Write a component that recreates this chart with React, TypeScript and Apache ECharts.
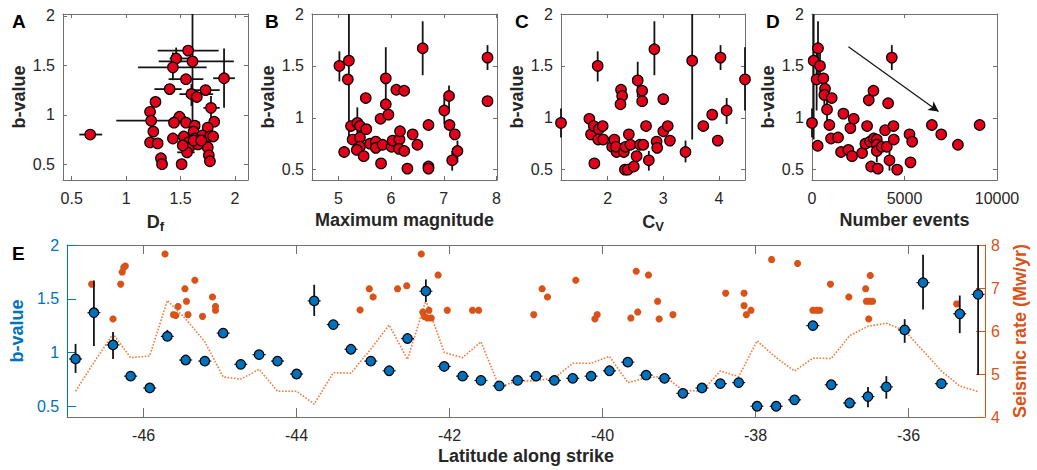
import React, { useEffect, useRef } from "react";
import * as echarts from "echarts";

const FONT = "'Liberation Sans', Arial, Helvetica, sans-serif";
const AX = "#707070";
const TXT = "#262626";
const RED = "#E3001B";
const BLUE = "#0072BD";
const ORANGE = "#D95319";
const RATE = "#F47A3C";

// Panel A: [Df, b, bLow, bHigh, DfLow, DfHigh]
const panelA = [
  [0.67, 0.8, 0.8, 0.8, 0.57, 0.78],
  [1.57, 1.65, 1.62, 1.68, 1.29, 1.85],
  [1.46, 1.57, 1.46, 1.68, 1.4, 1.6],
  [1.43, 1.48, 1.35, 1.63, 1.11, 1.74],
  [1.61, 1.54, 0.79, 2.3, 1.3, 1.99],
  [1.55, 1.36, 1.33, 1.39, 1.39, 1.71],
  [1.9, 1.37, 1.07, 1.67, 1.8, 2.0],
  [1.4, 1.26, 1.23, 1.29, 1.26, 1.51],
  [1.73, 1.25, 1.22, 1.28, 1.56, 1.86],
  [1.6, 1.21, 1.09, 1.31, 1.49, 1.8],
  [1.65, 1.18, 1.15, 1.21, 1.62, 1.68],
  [1.27, 1.13, 1.1, 1.16, 1.25, 1.3],
  [1.78, 1.07, 0.94, 1.19, 1.71, 1.86],
  [1.22, 1.03, 1.0, 1.06, 1.19, 1.25],
  [1.49, 0.98, 0.95, 1.01, 1.43, 1.55],
  [1.23, 0.94, 0.81, 1.08, 0.91, 1.54],
  [1.44, 0.92, 0.89, 0.95, 1.4, 1.48],
  [1.81, 0.93, 0.9, 0.96, 1.78, 1.84],
  [1.55, 0.92, 0.89, 0.95, 1.5, 1.68],
  [1.63, 0.89, 0.86, 0.92, 1.6, 1.66],
  [1.25, 0.83, 0.8, 0.86, 1.22, 1.28],
  [1.62, 0.83, 0.8, 0.86, 1.58, 1.66],
  [1.75, 0.87, 0.84, 0.9, 1.72, 1.78],
  [1.43, 0.76, 0.73, 0.79, 1.4, 1.46],
  [1.53, 0.78, 0.75, 0.81, 1.49, 1.57],
  [1.7, 0.79, 0.76, 0.82, 1.66, 1.74],
  [1.77, 0.78, 0.75, 0.81, 1.73, 1.81],
  [1.63, 0.76, 0.73, 0.79, 1.59, 1.67],
  [1.22, 0.72, 0.69, 0.75, 1.18, 1.27],
  [1.29, 0.71, 0.68, 0.74, 1.25, 1.33],
  [1.57, 0.72, 0.69, 0.75, 1.53, 1.61],
  [1.65, 0.74, 0.71, 0.77, 1.61, 1.69],
  [1.69, 0.71, 0.68, 0.74, 1.65, 1.73],
  [1.58, 0.67, 0.64, 0.7, 1.54, 1.62],
  [1.75, 0.67, 0.64, 0.7, 1.7, 1.8],
  [1.66, 0.7, 0.67, 0.73, 1.62, 1.7],
  [1.56, 0.62, 0.59, 0.65, 1.47, 1.63],
  [1.76, 0.59, 0.56, 0.62, 1.72, 1.8],
  [1.32, 0.56, 0.53, 0.59, 1.29, 1.35],
  [1.33, 0.5, 0.47, 0.53, 1.3, 1.36],
  [1.51, 0.5, 0.47, 0.53, 1.47, 1.55],
  [1.77, 0.53, 0.5, 0.56, 1.72, 1.82],
  [1.62, 0.74, 0.71, 0.77, 1.58, 1.66],
  [1.69, 0.74, 0.71, 0.77, 1.65, 1.73],
  [1.52, 0.69, 0.66, 0.72, 1.48, 1.56],
  [1.8, 0.78, 0.75, 0.81, 1.76, 1.84],
];

// Panel B: [max magnitude, b, bLow, bHigh]
const panelB = [
  [5.02, 1.5, 1.35, 1.64], [5.2, 1.55, 0.79, 2.3], [5.18, 1.37], [5.11, 0.67],
  [5.24, 0.92], [5.27, 0.79], [5.36, 0.95, 0.82, 1.1], [5.41, 0.92], [5.41, 0.81],
  [5.41, 0.72], [5.35, 0.69], [5.48, 0.63], [5.52, 1.19], [5.53, 0.89], [5.6, 0.75],
  [5.71, 0.77], [5.71, 0.71], [5.81, 0.56], [5.8, 0.99], [5.84, 0.74],
  [5.9, 1.38, 1.07, 1.68], [5.9, 1.13, 1.1, 1.16], [5.95, 1.03], [6.01, 0.72],
  [6.03, 0.78], [6.1, 1.27], [6.16, 0.79], [6.17, 0.87], [6.15, 0.7], [6.25, 1.26],
  [6.25, 0.68], [6.31, 0.51], [6.41, 0.84], [6.5, 0.74], [6.6, 1.67, 1.41, 1.93],
  [6.71, 0.93], [6.71, 0.53], [6.71, 0.51], [7.01, 1.07, 0.94, 1.19],
  [7.1, 1.21, 1.09, 1.31], [7.11, 0.93], [7.16, 0.59, 0.49, 0.68], [7.21, 0.84],
  [7.26, 0.68, 0.57, 0.78], [7.83, 1.58, 1.46, 1.7], [7.83, 1.16, 1.11, 1.21],
];

// Panel C: [Cv, b, bLow, bHigh]
const panelC = [
  [1.16, 0.95, 0.81, 1.09], [1.82, 1.5, 1.35, 1.64], [1.67, 0.99], [1.7, 0.84],
  [1.75, 0.92], [1.76, 0.56], [1.84, 0.89], [1.83, 0.79], [1.91, 0.92], [1.92, 0.79],
  [2.08, 0.72], [2.12, 0.79], [2.16, 0.67], [2.15, 0.72], [2.24, 1.27], [2.26, 1.21],
  [2.23, 1.13], [2.29, 0.67], [2.32, 0.72], [2.31, 0.5], [2.36, 0.5], [2.38, 0.84],
  [2.41, 0.74], [2.47, 0.53], [2.52, 0.63], [2.54, 1.36, 1.2, 1.54], [2.58, 0.74],
  [2.62, 1.26], [2.64, 0.74], [2.62, 1.16, 1.12, 1.2], [2.69, 0.92],
  [2.74, 0.59, 0.49, 0.68], [2.84, 1.66, 1.41, 1.93], [2.88, 0.77], [2.89, 0.71],
  [3.0, 0.87], [3.0, 1.18], [3.08, 0.92], [3.12, 0.78], [3.4, 0.67, 0.57, 0.78],
  [3.52, 1.55, 0.79, 2.3], [3.72, 0.92], [3.88, 1.03], [3.98, 0.78],
  [4.03, 1.58, 1.46, 1.7], [4.14, 1.07, 0.94, 1.19], [4.47, 1.37, 1.07, 1.68],
];

// Panel D: [number of events, b, bLow, bHigh]
const panelD = [
  [0, 0.95, 0.81, 1.09], [90, 1.55, 0.79, 2.3], [325, 1.67, 1.41, 1.93],
  [250, 1.37, 1.07, 1.68], [307, 0.73], [433, 1.5, 1.35, 1.64], [614, 1.38],
  [704, 1.28], [668, 1.22, 1.09, 1.31], [812, 1.08, 0.94, 1.19], [939, 0.93],
  [1065, 1.19], [1029, 0.8], [1408, 0.81], [1570, 0.67], [1697, 1.04], [1967, 0.69],
  [2076, 0.9], [2166, 0.63], [2256, 0.99], [2708, 0.66], [2888, 0.75], [2978, 0.92],
  [3069, 1.17, 1.11, 1.21], [3141, 0.77], [3195, 0.53], [3321, 1.26], [3339, 0.8],
  [3502, 0.79], [3502, 0.74], [3502, 0.68, 0.57, 0.78], [3556, 0.51], [3772, 0.72],
  [3953, 0.88], [4043, 0.72], [4115, 1.14], [4188, 0.59, 0.49, 0.68],
  [4314, 1.58, 1.46, 1.7], [4404, 0.92], [4422, 0.79], [4603, 0.5], [5271, 0.84],
  [5325, 0.57], [5415, 0.77], [6480, 0.93], [6986, 0.84], [7888, 0.74], [9061, 0.93],
];
const arrowD = [[1967, 1.684], [6841, 1.061]];

// Panel E
const eLat = [-46.89, -46.65, -46.4, -46.17, -45.92, -45.69, -45.45, -45.2, -44.96, -44.73,
  -44.49, -44.25, -44.0, -43.77, -43.52, -43.29, -43.03, -42.79, -42.55, -42.31, -42.07,
  -41.83, -41.59, -41.35, -41.11, -40.87, -40.63, -40.39, -40.15, -39.91, -39.67, -39.43,
  -39.19, -38.95, -38.7, -38.46, -38.22, -37.98, -37.73, -37.49, -37.25, -37.01, -36.77,
  -36.53, -36.29, -36.05, -35.81, -35.57, -35.33, -35.09];
const eB = [0.94, 1.37, 1.07, 0.78, 0.67, 1.15, 0.93, 0.92, 1.18, 0.89, 0.98, 0.92, 0.8,
  1.48, 1.26, 1.03, 0.92, 0.83, 1.13, 1.57, 0.87, 0.78, 0.74, 0.69, 0.74, 0.78, 0.74, 0.76,
  0.78, 0.83, 0.91, 0.79, 0.76, 0.62, 0.67, 0.71, 0.72, 0.5, 0.5, 0.56, 1.25, 0.7, 0.53,
  0.59, 0.68, 1.21, 1.65, 0.71, 1.36, 1.54];
const eBLow = [0.81, 1.06, 0.94, 0.75, 0.64, 1.11, 0.9, 0.89, 1.15, 0.86, 0.95, 0.89, 0.77,
  1.34, 1.23, 1.0, 0.89, 0.8, 1.1, 1.47, 0.84, 0.75, 0.71, 0.66, 0.71, 0.75, 0.71, 0.73,
  0.75, 0.8, 0.88, 0.76, 0.73, 0.59, 0.64, 0.68, 0.69, 0.47, 0.47, 0.53, 1.22, 0.67, 0.5,
  0.49, 0.57, 1.09, 1.4, 0.68, 1.18, 0.79];
const eBHigh = [1.08, 1.67, 1.19, 0.81, 0.7, 1.21, 0.96, 0.95, 1.21, 0.92, 1.01, 0.95, 0.83,
  1.63, 1.29, 1.06, 0.95, 0.86, 1.16, 1.68, 0.9, 0.81, 0.77, 0.72, 0.77, 0.81, 0.77, 0.79,
  0.81, 0.86, 0.94, 0.82, 0.79, 0.65, 0.7, 0.74, 0.75, 0.53, 0.53, 0.59, 1.28, 0.73, 0.56,
  0.68, 0.78, 1.31, 1.91, 0.74, 1.53, 2.3];
const eRate = [4.6, 5.27, 5.93, 5.38, 5.42, 6.71, 6.28, 5.75, 4.93, 4.88, 5.11, 4.6, 4.6,
  4.3, 5.03, 5.02, 5.58, 6.14, 5.34, 6.71, 5.5, 5.38, 5.75, 4.7, 4.84, 4.84, 4.91, 5.25,
  5.25, 5.41, 4.8, 4.91, 4.95, 4.62, 4.6, 5.07, 4.94, 5.77, 5.38, 5.07, 5.37, 5.36, 5.89,
  6.11, 6.18, 6.01, 5.54, 5.07, 4.72, 4.59];
const quakeLat = [-46.68, -46.4, -46.3, -46.28, -46.26, -46.24, -45.72, -45.61, -45.58,
  -45.55, -45.46, -45.44, -45.42, -45.33, -45.23, -45.1, -45.06, -45.06, -43.17, -43.05,
  -43.0, -42.68, -42.56, -42.37, -42.35, -42.33, -42.29, -42.27, -42.24, -42.15, -42.03,
  -41.7, -41.62, -40.9, -40.79, -40.72, -40.35, -40.1, -40.07, -39.63, -39.56, -39.54,
  -39.4, -39.28, -39.26, -39.08, -38.39, -38.15, -38.15, -38.12, -38.06, -37.79, -37.45,
  -37.25, -37.2, -37.16, -37.02, -36.78, -36.56, -36.5, -36.55, -36.51, -36.47, -36.52,
  -35.37];
const quakeMag = [7.09, 6.28, 7.09, 7.37, 7.48, 7.51, 7.79, 6.38, 6.36, 6.57, 6.98, 6.69,
  6.38, 7.18, 6.34, 6.79, 6.57, 6.48, 6.49, 6.98, 6.79, 6.98, 7.05, 7.79, 6.44, 6.34, 6.3,
  6.48, 6.3, 7.3, 6.48, 6.48, 6.48, 6.38, 6.98, 6.79, 7.18, 6.28, 6.38, 6.3, 7.39, 6.44,
  7.3, 6.69, 6.28, 6.38, 6.88, 6.88, 6.59, 6.38, 6.48, 7.66, 7.57, 6.48, 6.48, 6.48, 7.09,
  6.79, 6.98, 7.29, 6.69, 6.69, 6.69, 6.28, 6.63];

const ticksB = [0.5, 1, 1.5, 2];
const ticksA = [0.5, 1, 1.5, 2];
const ticksMag = [5, 6, 7, 8];
const ticksCv = [2, 3, 4];
const ticksN = [0, 5000, 10000];
const ticksLat = [-46, -44, -42, -40, -38, -36];
const ticksRate = [4, 5, 6, 7, 8];

const rangeAx = [0.42, 2.12];
const rangeAy = [0.34, 2.02];
const rangeBx = [4.5, 8.01];
const rangeCx = [1.16, 4.47];
const rangeDx = [0, 10000];
const rangeBy = [0.4, 2];
const rangeEx = [-47, -35];
const rangeRate = [4, 8];

const ASTERISK = "path://M0,-10L0,10M-10,0L10,0M-7,-7L7,7M-7,7L7,-7";

function errRender(xr: number[], yr: number[], hasX: boolean, hTick: number) {
  return (params: any, api: any) => {
    const x = api.value(0);
    const y = api.value(1);
    const lo = api.value(2);
    const hi = api.value(3);
    const cy = (v: number) => Math.max(yr[0], Math.min(yr[1], v));
    const cx = (v: number) => Math.max(xr[0], Math.min(xr[1], v));
    const ch: any[] = [];
    const st = { stroke: "#141414", lineWidth: 1.8 };
    if (hi > lo) {
      const a = api.coord([x, cy(lo)]);
      const b = api.coord([x, cy(hi)]);
      ch.push({ type: "line", shape: { x1: a[0], y1: a[1], x2: b[0], y2: b[1] }, style: st });
    }
    if (hasX) {
      const xl = api.value(4);
      const xh = api.value(5);
      if (xh > xl) {
        const a = api.coord([cx(xl), y]);
        const b = api.coord([cx(xh), y]);
        ch.push({ type: "line", shape: { x1: a[0], y1: a[1], x2: b[0], y2: b[1] }, style: st });
      }
    }
    if (hTick > 0) {
      const c = api.coord([x, y]);
      ch.push({ type: "line", shape: { x1: c[0] - hTick, y1: c[1], x2: c[0] + hTick, y2: c[1] }, style: { stroke: "#141414", lineWidth: 1.2 } });
    }
    return { type: "group", children: ch };
  };
}

const grids = [
  { left: 63, top: 14, width: 185, height: 166 },
  { left: 312, top: 14, width: 185, height: 166 },
  { left: 561, top: 14, width: 184, height: 166 },
  { left: 812, top: 14, width: 185, height: 166 },
  { left: 63, top: 245, width: 933, height: 172 },
];

const labelStyle = { color: TXT, fontSize: 16, fontFamily: FONT };
const nameStyle = { color: TXT, fontSize: 18, fontWeight: "bold" as const, fontFamily: FONT };

function xAx(g: number, range: number[], ticks: number[], name: any, rich?: any) {
  const tl = g === 4 ? 9 : 4;
  const base = {
    type: "value", gridIndex: g, min: range[0], max: range[1],
    splitLine: { show: false },
  };
  const bottom = {
    ...base, position: "bottom",
    axisLine: { show: true, onZero: false, lineStyle: { color: AX, width: 1 } },
    axisTick: { show: true, inside: true, length: tl, customValues: ticks, lineStyle: { color: AX } },
    axisLabel: { show: true, customValues: ticks, formatter: (v: number) => String(v), margin: 10, ...labelStyle },
    name, nameLocation: "middle", nameGap: g === 4 ? 30 : 31,
    nameTextStyle: rich ? { ...nameStyle, rich } : nameStyle,
  };
  const top = {
    ...base, position: "top",
    axisLine: { show: true, onZero: false, lineStyle: { color: AX, width: 1 } },
    axisTick: { show: true, inside: true, length: tl, customValues: ticks, lineStyle: { color: AX } },
    axisLabel: { show: false },
  };
  return [bottom, top];
}

function yAx(g: number, range: number[]) {
  const base = { type: "value", gridIndex: g, min: range[0], max: range[1], splitLine: { show: false } };
  const left = {
    ...base, position: "left",
    axisLine: { show: true, onZero: false, lineStyle: { color: AX, width: 1 } },
    axisTick: { show: true, inside: true, length: 4, customValues: ticksB, lineStyle: { color: AX } },
    axisLabel: { show: true, customValues: ticksB, formatter: (v: number) => String(v), margin: 8, ...labelStyle },
    name: "b-value", nameLocation: "middle", nameGap: 35, nameTextStyle: nameStyle,
  };
  const right = {
    ...base, position: "right",
    axisLine: { show: true, onZero: false, lineStyle: { color: AX, width: 1 } },
    axisTick: { show: true, inside: true, length: 4, customValues: ticksB, lineStyle: { color: AX } },
    axisLabel: { show: false },
  };
  return [left, right];
}

const subRich = {
  m: { fontSize: 18, fontWeight: "bold", fontFamily: FONT, color: TXT },
  s: { fontSize: 13, fontWeight: "bold", fontFamily: FONT, color: TXT, padding: [9, 0, 0, 0] },
};

function scatter(g: number, data: number[][], extra?: any) {
  return {
    type: "scatter", xAxisIndex: 2 * g, yAxisIndex: 2 * g, z: 5,
    data: data.map((p) => [p[0], p[1]]),
    symbol: "circle", symbolSize: 10.5,
    itemStyle: { color: RED, borderColor: "#000", borderWidth: 1.2, opacity: 1 },
    ...(extra || {}),
  };
}

function errSeries(g: number, data: number[][], xr: number[], yr: number[], hasX: boolean) {
  return {
    type: "custom", xAxisIndex: 2 * g, yAxisIndex: 2 * g, z: 3,
    renderItem: errRender(xr, yr, hasX, 0),
    encode: { x: 0, y: 1 },
    data: data.map((p) => hasX ? p : [p[0], p[1], p.length > 2 ? p[2] : p[1], p.length > 3 ? p[3] : p[1]]),
    silent: true,
  };
}

export default function App() {
  const ref = useRef<HTMLDivElement>(null);
  useEffect(() => {
    if (!ref.current) return;
    const chart = echarts.init(ref.current, undefined, { renderer: "svg" });
    const ax = [
      ...xAx(0, rangeAx, ticksA, "{m|D}{s|f}", subRich),
      ...xAx(1, rangeBx, ticksMag, "Maximum magnitude"),
      ...xAx(2, rangeCx, ticksCv, "{m|C}{s|V}", subRich),
      ...xAx(3, rangeDx, ticksN, "Number events"),
      ...xAx(4, rangeEx, ticksLat, "Latitude along strike"),
    ];
    const ay: any[] = [
      ...yAx(0, rangeAy), ...yAx(1, rangeBy), ...yAx(2, rangeBy), ...yAx(3, rangeBy),
      {
        type: "value", gridIndex: 4, min: rangeBy[0], max: rangeBy[1], position: "left",
        splitLine: { show: false },
        axisLine: { show: true, onZero: false, lineStyle: { color: BLUE, width: 1 } },
        axisTick: { show: true, inside: true, length: 9, customValues: ticksB, lineStyle: { color: BLUE } },
        axisLabel: { show: true, customValues: ticksB, formatter: (v: number) => String(v), margin: 8, ...labelStyle, color: BLUE },
        name: "b-value", nameLocation: "middle", nameGap: 35, nameTextStyle: { ...nameStyle, color: BLUE },
      },
      {
        type: "value", gridIndex: 4, min: rangeRate[0], max: rangeRate[1], interval: 1, position: "right",
        splitLine: { show: false },
        axisLine: { show: true, onZero: false, lineStyle: { color: ORANGE, width: 1 } },
        axisTick: { show: true, inside: true, length: 9, customValues: ticksRate, lineStyle: { color: ORANGE } },
        axisLabel: { show: true, customValues: ticksRate, formatter: (v: number) => String(v), margin: 6, ...labelStyle, color: ORANGE },
        name: "Seismic rate (Mw/yr)", nameLocation: "middle", nameGap: 26, nameTextStyle: { ...nameStyle, color: ORANGE },
      },
    ];

    const letters = ["A", "B", "C", "D", "E"];
    const letterPos = [[12, 12], [265, 12], [515, 12], [766, 12], [12, 244]];

    const option: any = {
      animation: false,
      backgroundColor: "#fff",
      textStyle: { fontFamily: FONT },
      grid: grids.map((g) => ({ ...g, containLabel: false })),
      xAxis: ax,
      yAxis: ay,
      graphic: letters.map((t, i) => ({
        type: "text", left: letterPos[i][0], top: letterPos[i][1],
        style: { text: t, fill: "#000", font: `bold 19px ${FONT}` },
      })),
      series: [
        errSeries(0, panelA, rangeAx, rangeAy, true),
        scatter(0, panelA),
        errSeries(1, panelB, rangeBx, rangeBy, false),
        scatter(1, panelB),
        errSeries(2, panelC, rangeCx, rangeBy, false),
        scatter(2, panelC),
        errSeries(3, panelD, rangeDx, rangeBy, false),
        scatter(3, panelD, {
          markLine: {
            silent: true, symbol: ["none", "arrow"], symbolSize: [8, 10],
            label: { show: false },
            lineStyle: { color: "#111", width: 1.2, type: "solid" },
            data: [[{ coord: arrowD[0] }, { coord: arrowD[1] }]],
          },
        }),
        {
          type: "line", xAxisIndex: 8, yAxisIndex: 9, z: 2,
          data: eLat.map((l, i) => [l, eRate[i]]),
          showSymbol: false, symbol: "none",
          lineStyle: { color: RATE, width: 1.6, type: "dotted" },
        },
        {
          type: "scatter", xAxisIndex: 8, yAxisIndex: 9, z: 3,
          data: quakeLat.map((l, i) => [l, quakeMag[i]]),
          symbol: ASTERISK, symbolSize: 7,
          itemStyle: { color: ORANGE, borderColor: ORANGE, borderWidth: 2.4, opacity: 1 },
        },
        {
          type: "custom", xAxisIndex: 8, yAxisIndex: 8, z: 4, silent: true,
          renderItem: errRender(rangeEx, rangeBy, false, 6.5),
          encode: { x: 0, y: 1 },
          data: eLat.map((l, i) => [l, eB[i], eBLow[i], eBHigh[i]]),
        },
        {
          type: "scatter", xAxisIndex: 8, yAxisIndex: 8, z: 5,
          data: eLat.map((l, i) => [l, eB[i]]),
          symbol: "circle", symbolSize: 9.5,
          itemStyle: { color: BLUE, borderColor: "#000", borderWidth: 1.2, opacity: 1 },
        },
      ],
    };
    chart.setOption(option);
    return () => chart.dispose();
  }, []);
  return <div ref={ref} style={{ position: "fixed", left: 0, top: 0, width: 1037, height: 470, background: "#fff" }} />;
}
